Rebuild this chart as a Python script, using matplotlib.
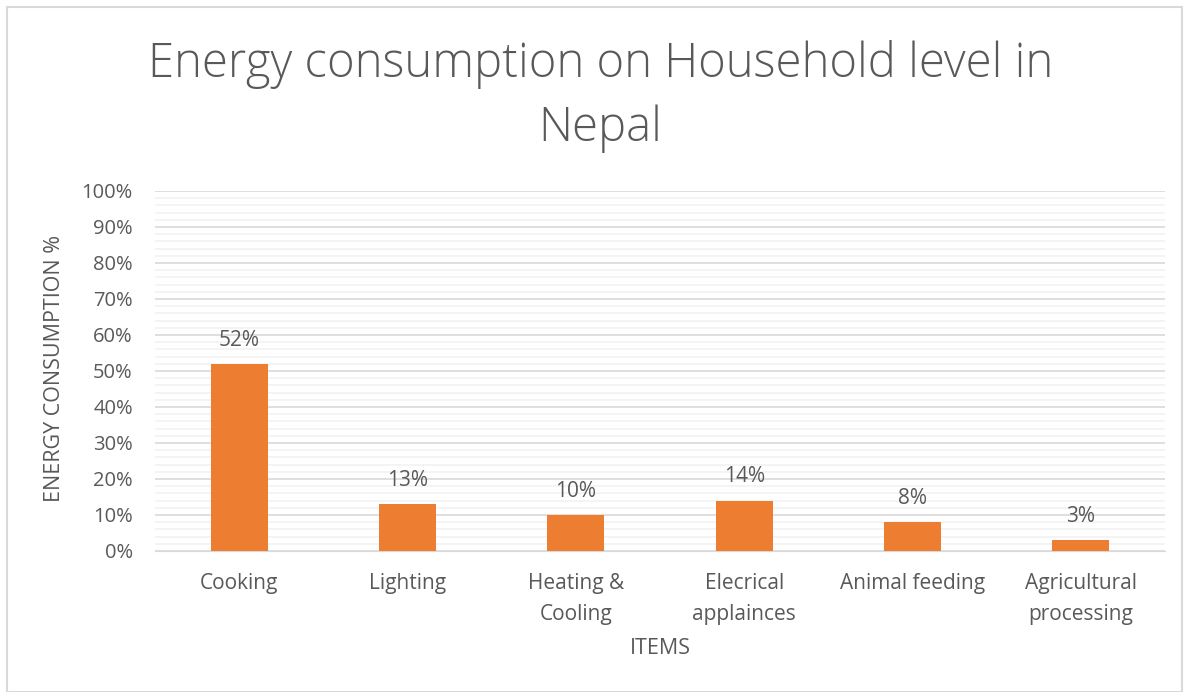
import matplotlib.pyplot as plt
from matplotlib.ticker import MultipleLocator, PercentFormatter
from matplotlib.patches import Rectangle

items = ["Cooking", "Lighting", "Heating &\nCooling", "Elecrical\napplainces",
         "Animal feeding", "Agricultural\nprocessing"]
consumption = [52, 13, 10, 14, 8, 3]

text_col = "#595959"
plt.rcParams['font.family'] = ['Open Sans', 'DejaVu Sans']

fig = plt.figure(figsize=(11.87, 6.92), dpi=100)
ax = fig.add_axes([0.1306, 0.2038, 0.8509, 0.5202])

x = range(len(items))
ax.bar(x, consumption, width=0.34, color="#ED7D31", zorder=3)
for i, v in zip(x, consumption):
    ax.annotate(f"{v}%", (i, v), xytext=(0, 17), textcoords="offset points",
                ha="center", va="center", fontsize=15, color=text_col)

ax.set_xlim(-0.5, len(items) - 0.5)
ax.set_ylim(0, 100)
ax.yaxis.set_major_locator(MultipleLocator(10))
ax.yaxis.set_minor_locator(MultipleLocator(2))
ax.yaxis.set_major_formatter(PercentFormatter(decimals=0))
ax.grid(axis="y", which="major", color="#D9D9D9", lw=1.2, zorder=0)
ax.grid(axis="y", which="minor", color="#F2F2F2", lw=1.2, zorder=0)
ax.set_xticks(list(x))
ax.set_xticklabels(items, fontsize=15, color=text_col, linespacing=1.6)
ax.tick_params(axis="y", labelsize=14.5, labelcolor=text_col, length=0, pad=16)
ax.tick_params(axis="x", length=0, pad=16)
ax.tick_params(axis="y", which="minor", length=0)
for s in ax.spines.values():
    s.set_visible(False)
ax.spines["bottom"].set_visible(True)
ax.spines["bottom"].set_color("#D9D9D9")

ax.set_xlabel("ITEMS", fontsize=15.5, color=text_col, va="center")
ax.xaxis.set_label_coords(0.5, -0.272)
ax.set_ylabel("ENERGY CONSUMPTION %", fontsize=15.5, color=text_col, va="center")
ax.yaxis.set_label_coords(-0.1, 0.508)

fig.text(0.506, 0.86, "Energy consumption on Household level in\nNepal", ha="center",
         va="center", fontsize=34, color=text_col, fontweight="light", linespacing=1.42)

fig.patches.append(Rectangle((0.006, 0.0), 0.99, 0.99, transform=fig.transFigure,
                             fill=False, edgecolor="#D9D9D9", lw=1.5))

fig.savefig("out.png", dpi=100)
